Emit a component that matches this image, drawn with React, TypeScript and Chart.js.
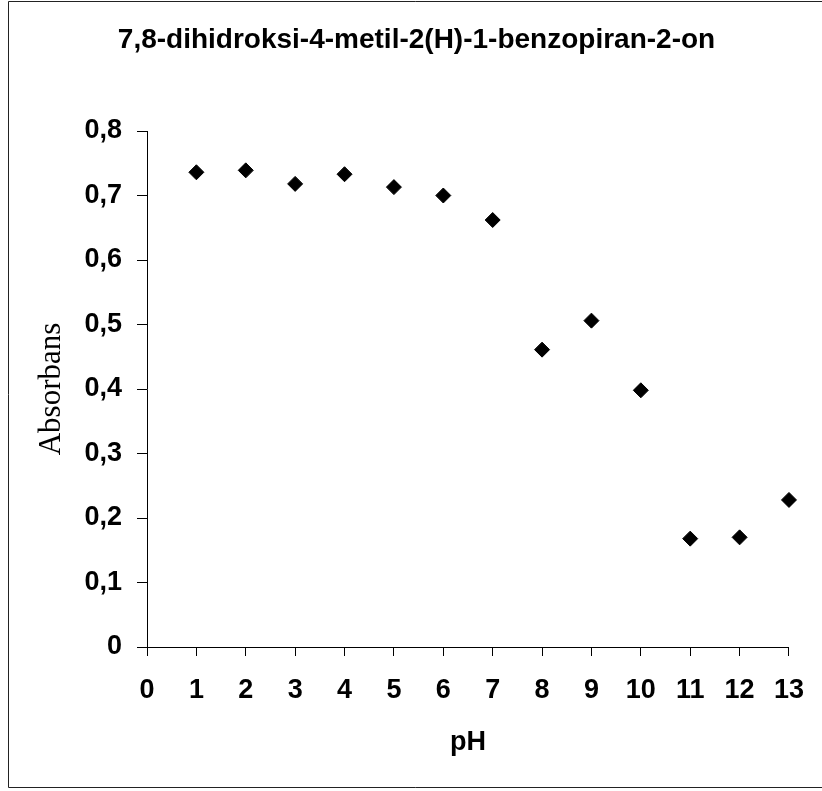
import React, { useEffect, useRef } from "react";
import { Chart, registerables } from "chart.js";

Chart.register(...registerables);

const titleText = "7,8-dihidroksi-4-metil-2(H)-1-benzopiran-2-on";
const xAxisTitle = "pH";
const yAxisTitle = "Absorbans";
const phValues = [1, 2, 3, 4, 5, 6, 7, 8, 9, 10, 11, 12, 13];
const absorbance = [0.736, 0.739, 0.718, 0.733, 0.713, 0.7, 0.662, 0.461, 0.506, 0.398, 0.168, 0.17, 0.228];
const xRange = [0, 13];
const yRange = [0, 0.8];

const SANS = '"Liberation Sans", Arial, sans-serif';
const SERIF = '"Liberation Serif", "Times New Roman", serif';

const framePlugin = {
  id: "frame",
  afterDraw(chart: any) {
    const { ctx, width, height } = chart;
    ctx.save();
    ctx.strokeStyle = "#222";
    ctx.lineWidth = 1;
    ctx.beginPath();
    ctx.moveTo(width, 1.5);
    ctx.lineTo(8.5, 1.5);
    ctx.lineTo(8.5, height - 3.5);
    ctx.lineTo(width, height - 3.5);
    ctx.stroke();
    ctx.restore();
  },
};

export default function App() {
  const ref = useRef<HTMLCanvasElement | null>(null);
  useEffect(() => {
    document.body.style.margin = "0";
    const canvas = ref.current;
    if (!canvas) return;
    const points = phValues.map((x, i) => ({ x, y: absorbance[i] }));
    const chart = new Chart(canvas, {
      type: "scatter",
      data: {
        datasets: [
          {
            data: points,
            pointStyle: "rectRot",
            pointRadius: 7.5,
            pointBackgroundColor: "#000",
            pointBorderColor: "#000",
            pointBorderWidth: 1,
            showLine: false,
            clip: false,
          },
        ],
      },
      options: {
        responsive: false,
        animation: false,
        layout: { padding: { left: 11, right: 0, top: 0, bottom: 0 } },
        plugins: {
          legend: { display: false },
          tooltip: { enabled: false },
          title: {
            display: true,
            text: titleText,
            color: "#000",
            font: { family: SANS, size: 28, weight: "bold" },
            padding: { top: 23.5, bottom: 73.9 },
          },
        },
        scales: {
          x: {
            type: "linear",
            position: "bottom",
            min: xRange[0],
            max: xRange[1],
            ticks: {
              stepSize: 1,
              padding: 18,
              color: "#000",
              autoSkip: false,
              maxRotation: 0,
              font: { family: SANS, size: 27, weight: "bold" },
            },
            grid: { display: true, drawOnChartArea: false, drawTicks: true, tickLength: 9, color: "#000" },
            border: { display: true, color: "#000", width: 1 },
            title: {
              display: true,
              text: xAxisTitle,
              color: "#000",
              font: { family: SANS, size: 27, weight: "bold" },
              padding: { top: 0, bottom: 32.5 },
            },
            afterFit: (s: any) => {
              s.height = 144;
            },
          },
          y: {
            type: "linear",
            position: "left",
            min: yRange[0],
            max: yRange[1],
            ticks: {
              stepSize: 0.1,
              padding: 15,
              color: "#000",
              font: { family: SANS, size: 27, weight: "bold" },
              callback: (v: any) => (Math.abs(v) < 1e-9 ? "0" : Number(v).toFixed(1).replace(".", ",")),
            },
            grid: { display: true, drawOnChartArea: false, drawTicks: true, tickLength: 10, color: "#000" },
            border: { display: true, color: "#000", width: 1 },
            title: {
              display: true,
              text: yAxisTitle,
              color: "#000",
              font: { family: SERIF, size: 31, weight: "normal" },
              padding: { top: 22, bottom: 0 },
            },
            afterFit: (s: any) => {
              s.width = 136;
            },
          },
          y2: {
            type: "linear",
            position: "right",
            display: true,
            grid: { display: false },
            ticks: { display: false },
            border: { display: false },
            afterFit: (s: any) => {
              s.width = 32;
            },
          },
        },
      },
      plugins: [framePlugin],
    } as any);
    return () => chart.destroy();
  }, []);
  return (
    <div style={{ width: 822, height: 791, background: "#fff" }}>
      <canvas ref={ref} width={822} height={791} style={{ display: "block" }} />
    </div>
  );
}
